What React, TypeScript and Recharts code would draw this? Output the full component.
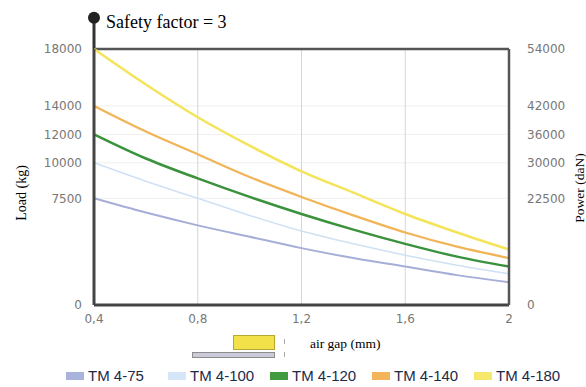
import {
  LineChart,
  Line,
  XAxis,
  YAxis,
  CartesianGrid,
  ReferenceLine,
  ReferenceDot,
} from 'recharts';

// air gap (mm) and load (kg) per model
const airGap = [0.4, 0.6, 0.8, 1.0, 1.2, 1.4, 1.6, 1.8, 2.0];
const tm75 = [7500, 6500, 5600, 4800, 4000, 3300, 2700, 2100, 1600];
const tm100 = [10000, 8700, 7500, 6300, 5200, 4300, 3500, 2800, 2200];
const tm120 = [12000, 10300, 8900, 7600, 6400, 5300, 4300, 3400, 2700];
const tm140 = [14000, 12200, 10600, 9000, 7600, 6300, 5100, 4100, 3300];
const tm180 = [18000, 15500, 13200, 11200, 9400, 7900, 6400, 5100, 3900];

const xTicks = [0.4, 0.8, 1.2, 1.6, 2];
const loadTicks = [0, 7500, 10000, 12000, 14000, 18000];
const powerTicks = [0, 22500, 30000, 36000, 42000, 54000];

const series = [
  { key: 'tm75', name: 'TM 4-75', color: '#a6aed8', swatch: '#a9b3dd', width: 2, values: tm75 },
  { key: 'tm100', name: 'TM 4-100', color: '#cfe1f3', swatch: '#d4e6f7', width: 1.6, values: tm100 },
  { key: 'tm120', name: 'TM 4-120', color: '#3b923c', swatch: '#3f9a40', width: 2.5, values: tm120 },
  { key: 'tm140', name: 'TM 4-140', color: '#f1b456', swatch: '#f3b45a', width: 2.2, values: tm140 },
  { key: 'tm180', name: 'TM 4-180', color: '#f3e45a', swatch: '#f6e86a', width: 2.5, values: tm180 },
];

const data = airGap.map((gap, i) => {
  const row: Record<string, number> = { gap };
  series.forEach((s) => {
    row[s.key] = s.values[i];
  });
  return row;
});

const tickStyle = { fontSize: 12, fill: '#777', fontFamily: 'DejaVu Sans' };
const serif = '"Liberation Serif", "Times New Roman", serif';

export default function App() {
  return (
    <div style={{ position: 'relative', width: 586, height: 387, background: '#fff', overflow: 'hidden' }}>
      <style>{'body{margin:0}'}</style>
      <LineChart width={586} height={387} data={data} margin={{ top: 49, right: 0, bottom: 52, left: 16 }}>
        <CartesianGrid yAxisId="left" stroke="#f0f0f0" vertical={false} />
        <CartesianGrid yAxisId="left" stroke="#d6d6d6" horizontal={false} />
        <XAxis
          dataKey="gap"
          type="number"
          domain={[0.4, 2]}
          ticks={xTicks}
          tickFormatter={(v: number) => String(v).replace('.', ',')}
          tick={tickStyle}
          tickLine={false}
          tickMargin={3}
          height={30}
          axisLine={{ stroke: '#444', strokeWidth: 3 }}
        />
        <YAxis
          yAxisId="left"
          domain={[0, 18000]}
          ticks={loadTicks}
          tick={tickStyle}
          tickLine={false}
          tickMargin={6}
          width={78}
          axisLine={{ stroke: '#444', strokeWidth: 3 }}
        />
        <YAxis
          yAxisId="right"
          orientation="right"
          domain={[0, 54000]}
          ticks={powerTicks}
          tick={tickStyle}
          tickLine={false}
          tickMargin={12}
          width={77}
          axisLine={{ stroke: '#555', strokeWidth: 2.5 }}
        />
        <ReferenceLine yAxisId="left" y={18000} stroke="#555" strokeWidth={2.5} />
        <ReferenceLine
          yAxisId="left"
          segment={[
            { x: 0.4, y: 18000 },
            { x: 0.4, y: 20200 },
          ]}
          ifOverflow="visible"
          stroke="#333"
          strokeWidth={3}
        />
        <ReferenceDot yAxisId="left" x={0.4} y={20200} r={6} fill="#222" stroke="none" ifOverflow="visible" />

        {/* keeps the power axis drawn; no visible stroke */}
        <Line
          yAxisId="right"
          dataKey="tm75"
          stroke="transparent"
          dot={false}
          activeDot={false}
          legendType="none"
          isAnimationActive={false}
        />

        {series.map((s) => (
          <Line
            key={s.key}
            yAxisId="left"
            type="monotone"
            dataKey={s.key}
            name={s.name}
            stroke={s.color}
            strokeWidth={s.width}
            dot={false}
            isAnimationActive={false}
          />
        ))}
      </LineChart>

      <div style={{ position: 'absolute', left: 106, top: 13, fontFamily: serif, fontSize: 18, lineHeight: '18px', color: '#000' }}>
        Safety factor = 3
      </div>
      <div
        style={{
          position: 'absolute',
          left: 22,
          top: 193,
          transform: 'translate(-50%, -50%) rotate(-90deg)',
          fontFamily: serif,
          fontSize: 14,
          whiteSpace: 'nowrap',
          color: '#000',
        }}
      >
        Load (kg)
      </div>
      <div
        style={{
          position: 'absolute',
          left: 580,
          top: 188,
          transform: 'translate(-50%, -50%) rotate(-90deg)',
          fontFamily: serif,
          fontSize: 13.5,
          whiteSpace: 'nowrap',
          color: '#000',
        }}
      >
        Power (daN)
      </div>

      {/* air gap key */}
      <div style={{ position: 'absolute', left: 233, top: 335, width: 40, height: 13, background: '#f3e14a', border: '1px solid #b9a830' }} />
      <div style={{ position: 'absolute', left: 192, top: 352, width: 81, height: 4, background: '#cacad8', border: '1px solid #8c8c8c' }} />
      <div style={{ position: 'absolute', left: 284, top: 339, width: 1, height: 5, background: '#aaa' }} />
      <div style={{ position: 'absolute', left: 284, top: 352, width: 1, height: 5, background: '#aaa' }} />
      <div style={{ position: 'absolute', left: 310, top: 336, fontFamily: serif, fontSize: 13.5, lineHeight: '16px', color: '#000' }}>
        air gap (mm)
      </div>

      {/* legend */}
      <div style={{ position: 'absolute', left: 66, top: 368, display: 'flex' }}>
        {series.map((s) => (
          <div key={s.key} style={{ width: 102, display: 'flex', alignItems: 'center' }}>
            <span style={{ display: 'inline-block', width: 18, height: 8, background: s.swatch, marginRight: 4 }} />
            <span style={{ fontFamily: '"Liberation Sans", Arial, sans-serif', fontSize: 15, color: '#1d2a48', lineHeight: '16px' }}>
              {s.name}
            </span>
          </div>
        ))}
      </div>
    </div>
  );
}
